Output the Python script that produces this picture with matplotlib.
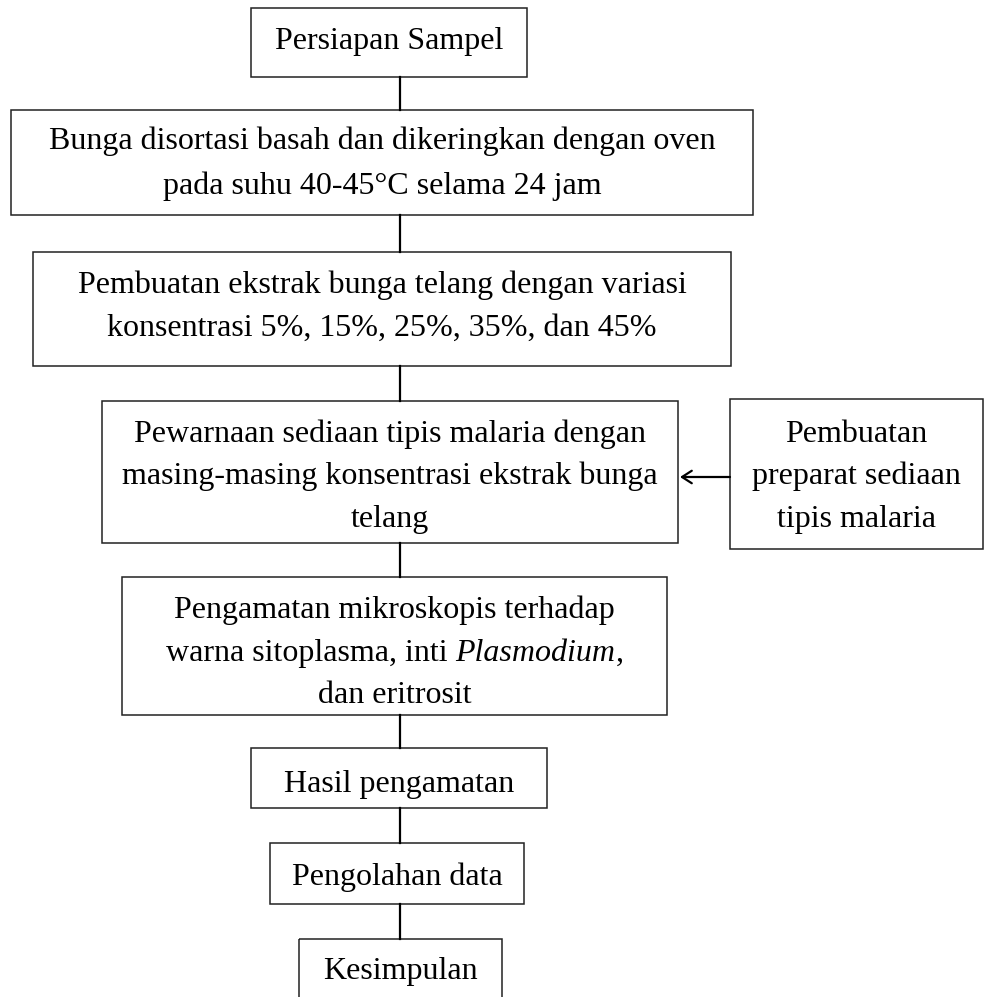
import matplotlib.pyplot as plt
from matplotlib.patches import Rectangle

# Flowchart content
step_lines = [
    ["Persiapan Sampel"],
    ["Bunga disortasi basah dan dikeringkan dengan oven",
     "pada suhu 40-45°C selama 24 jam"],
    ["Pembuatan ekstrak bunga telang dengan variasi",
     "konsentrasi 5%, 15%, 25%, 35%, dan 45%"],
    ["Pewarnaan sediaan tipis malaria dengan",
     "masing-masing konsentrasi ekstrak bunga",
     "telang"],
    ["Pengamatan mikroskopis terhadap",
     "warna sitoplasma, inti |Plasmodium|,",
     "dan eritrosit"],
    ["Hasil pengamatan"],
    ["Pengolahan data"],
    ["Kesimpulan"],
]
side_lines = ["Pembuatan", "preparat sediaan", "tipis malaria"]

# layout in pixels: (left, top, right, bottom, text centre y, line spacing)
step_boxes = [
    (251, 8, 527, 77, 38, 45),
    (11, 110, 753, 215, 160.5, 45),
    (33, 252, 731, 366, 303.5, 43),
    (102, 401, 678, 543, 473.5, 42.5),
    (122, 577, 667, 715, 650, 42.5),
    (251, 748, 547, 808, 781, 42),
    (270, 843, 524, 904, 874, 42),
    (299, 939, 502, 1012, 968, 42),
]
side_box = (730, 399, 983, 549, 473.5, 42.5)
trunk_x = 400
cap_h = 21

W, H = 984, 997
fig = plt.figure(figsize=(W / 100, H / 100), dpi=100)
ax = fig.add_axes([0, 0, 1, 1])
ax.set_xlim(0, W)
ax.set_ylim(H, 0)
ax.axis("off")

font = dict(family="Liberation Serif", size=23, color="black")
renderer = fig.canvas.get_renderer()


def draw_line(text, cx, y):
    # segments between | are italic
    parts = text.split("|")
    pieces = []
    for i, p in enumerate(parts):
        if not p:
            continue
        t = ax.text(0, y, p, ha="left", va="baseline",
                    style="italic" if i % 2 else "normal", **font)
        pieces.append(t)
    widths = []
    for t in pieces:
        bb = t.get_window_extent(renderer=renderer)
        widths.append(bb.width)
    x = cx - sum(widths) / 2
    for t, w in zip(pieces, widths):
        t.set_x(x)
        x += w


def draw_box(box, lines):
    l, t, r, b, cy, sp = box
    ax.add_patch(Rectangle((l, t), r - l, b - t, fill=False,
                           edgecolor="#222222", lw=1.1))
    n = len(lines)
    base0 = cy + cap_h / 2 - (n - 1) * sp / 2
    for k, line in enumerate(lines):
        draw_line(line, (l + r) / 2, base0 + k * sp)


for box, lines in zip(step_boxes, step_lines):
    draw_box(box, lines)
draw_box(side_box, side_lines)

# vertical connectors
for upper, lower in zip(step_boxes[:-1], step_boxes[1:]):
    ax.plot([trunk_x, trunk_x], [upper[3], lower[1]], color="black", lw=1.6)

# arrow from side box into the staining step
ax.annotate("", xy=(step_boxes[3][2] + 2, 477), xytext=(side_box[0], 477),
            arrowprops=dict(arrowstyle="->,head_length=0.7,head_width=0.45",
                            color="black", lw=1.6, shrinkA=0, shrinkB=0))

fig.savefig("out.png", dpi=100)
